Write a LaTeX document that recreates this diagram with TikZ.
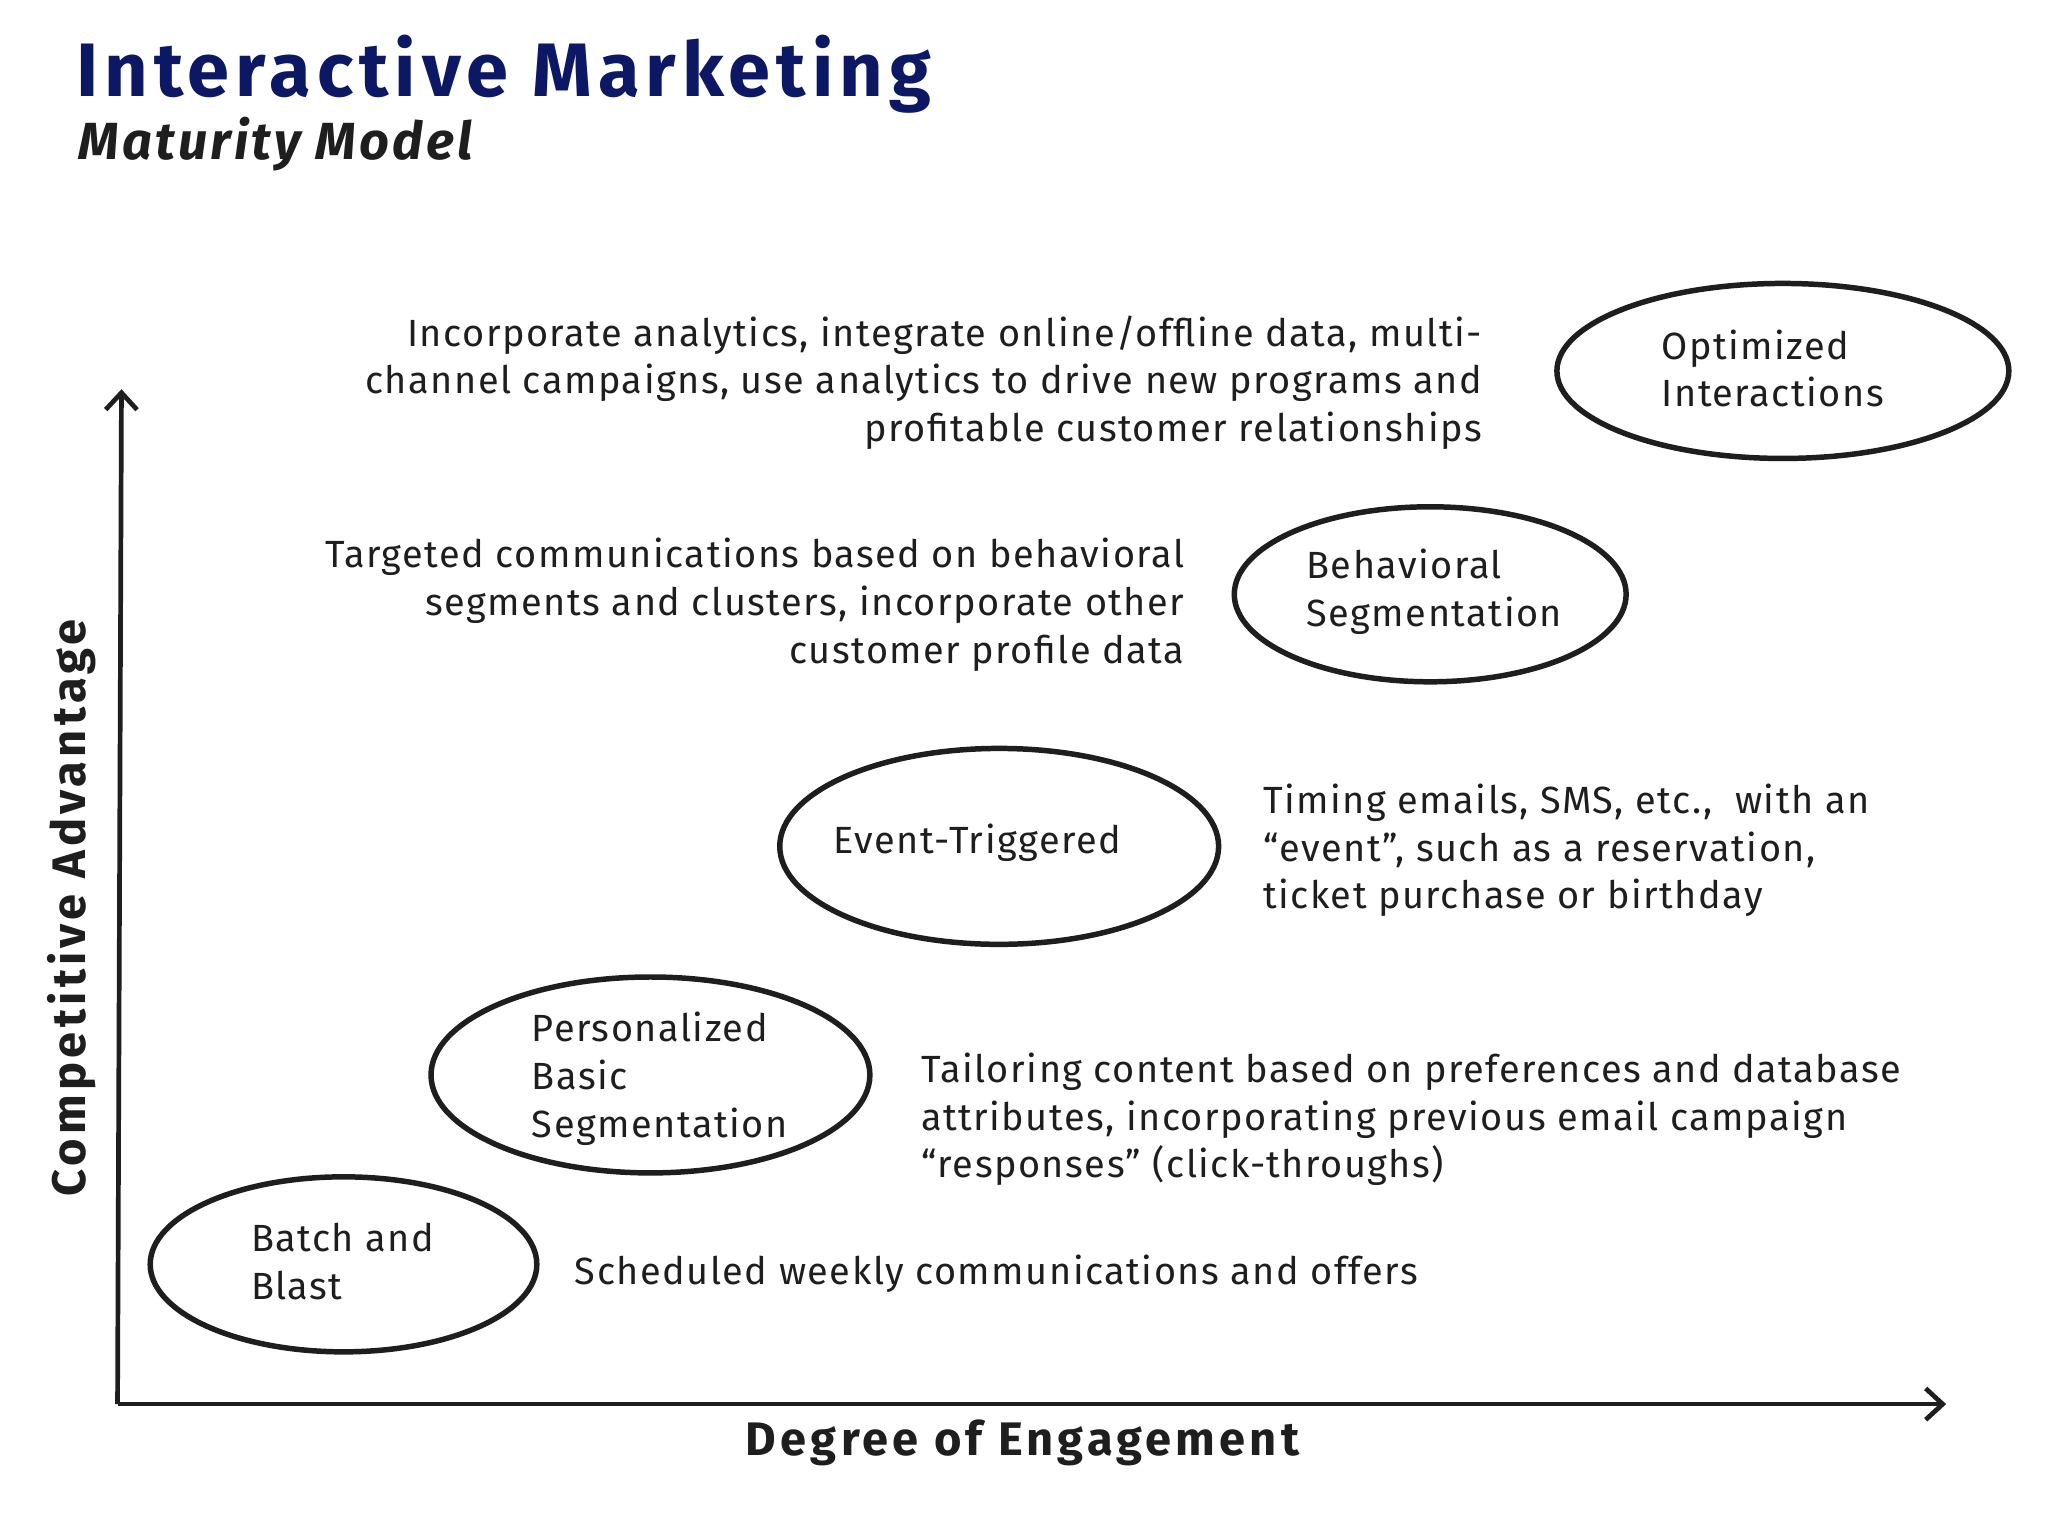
\documentclass[tikz,border=0pt]{standalone}
\usepackage{fontspec}
\setmainfont{Fira Sans}
\usetikzlibrary{shapes.geometric,arrows.meta}
\definecolor{navy}{RGB}{12,24,100}
\definecolor{ink}{RGB}{30,30,30}
\newcommand{\spaced}[1]{\addfontfeatures{LetterSpace=#1}}
\tikzset{
 stage/.style={draw=ink,line width=4.2pt,ellipse,minimum width=#1},
 lbl/.style={font=\fontsize{29}{36.5}\selectfont\spaced{4},text=ink,align=left,anchor=west,inner sep=0},
 desc/.style={font=\fontsize{29}{36.5}\selectfont\spaced{4},text=ink,inner sep=0},
 axis/.style={draw=ink,line width=3.6pt,-{Straight Barb[length=13pt,width=24pt,line width=3.6pt]}}
}
\begin{document}
\begin{tikzpicture}[x=1pt,y=-1pt]
\useasboundingbox[fill=white] (0,0) rectangle (1568,1176);
\node[anchor=west,inner sep=0,text=navy,font=\fontsize{58}{60}\selectfont\bfseries\spaced{8}] (t1) at (58,57) {Interactive Marketing};
\node[anchor=west,inner sep=0,text=ink,font=\fontsize{40}{44}\selectfont\bfseries\itshape\spaced{6}] (t2) at (60,110) {Maturity Model};
% ellipses
\node[stage=346pt,minimum height=134pt] (e5) at (1365,284) {};
\node[stage=300pt,minimum height=134pt] (e4) at (1095,455) {};
\node[stage=336pt,minimum height=150pt] (e3) at (765,648) {};
\node[stage=336pt,minimum height=150pt] (e2) at (498,823) {};
\node[stage=296pt,minimum height=134pt] (e1) at (263,968) {};
\node[lbl] (l5) at (1272,282) {Optimized\\Interactions};
\node[lbl] (l4) at (1000,453) {Behavioral\\Segmentation};
\node[lbl] (l3) at (638,645) {Event-Triggered};
\node[lbl] (l2) at (407,826) {Personalized\\Basic\\Segmentation};
\node[lbl] (l1) at (192,966) {Batch and\\Blast};
% descriptions
\node[desc,anchor=east,align=right] (d5) at (1135,293) {Incorporate analytics, integrate online/offline data, multi-\\channel campaigns, use analytics to drive new programs and\\profitable customer relationships};
\node[desc,anchor=east,align=right] (d4) at (907,463) {Targeted communications based on behavioral\\segments and clusters, incorporate other\\customer profile data};
\node[desc,anchor=west,align=left] (d3) at (967,651) {Timing emails, SMS, etc.,\ \ with an\\“event”, such as a reservation,\\ticket purchase or birthday};
\node[desc,anchor=west,align=left] (d2) at (705,857) {Tailoring content based on preferences and database\\attributes, incorporating previous email campaign\\“responses” (click-throughs)};
\node[desc,anchor=west,align=left] (d1) at (440,975) {Scheduled weekly communications and offers};
% axes
\coordinate (o) at (90,1075);
\coordinate (yt) at (93,298);
\coordinate (xt) at (1490,1075);
\draw[axis] (o) -- (yt);
\draw[axis] (o) -- (xt);
\node[inner sep=0,text=ink,font=\fontsize{36}{40}\selectfont\bfseries\spaced{9}] (xl) at (783,1105) {Degree of Engagement};
\node[inner sep=0,text=ink,rotate=90,font=\fontsize{36}{40}\selectfont\bfseries\spaced{9}] (yl) at (55,695) {Competitive Advantage};
\end{tikzpicture}
\end{document}
